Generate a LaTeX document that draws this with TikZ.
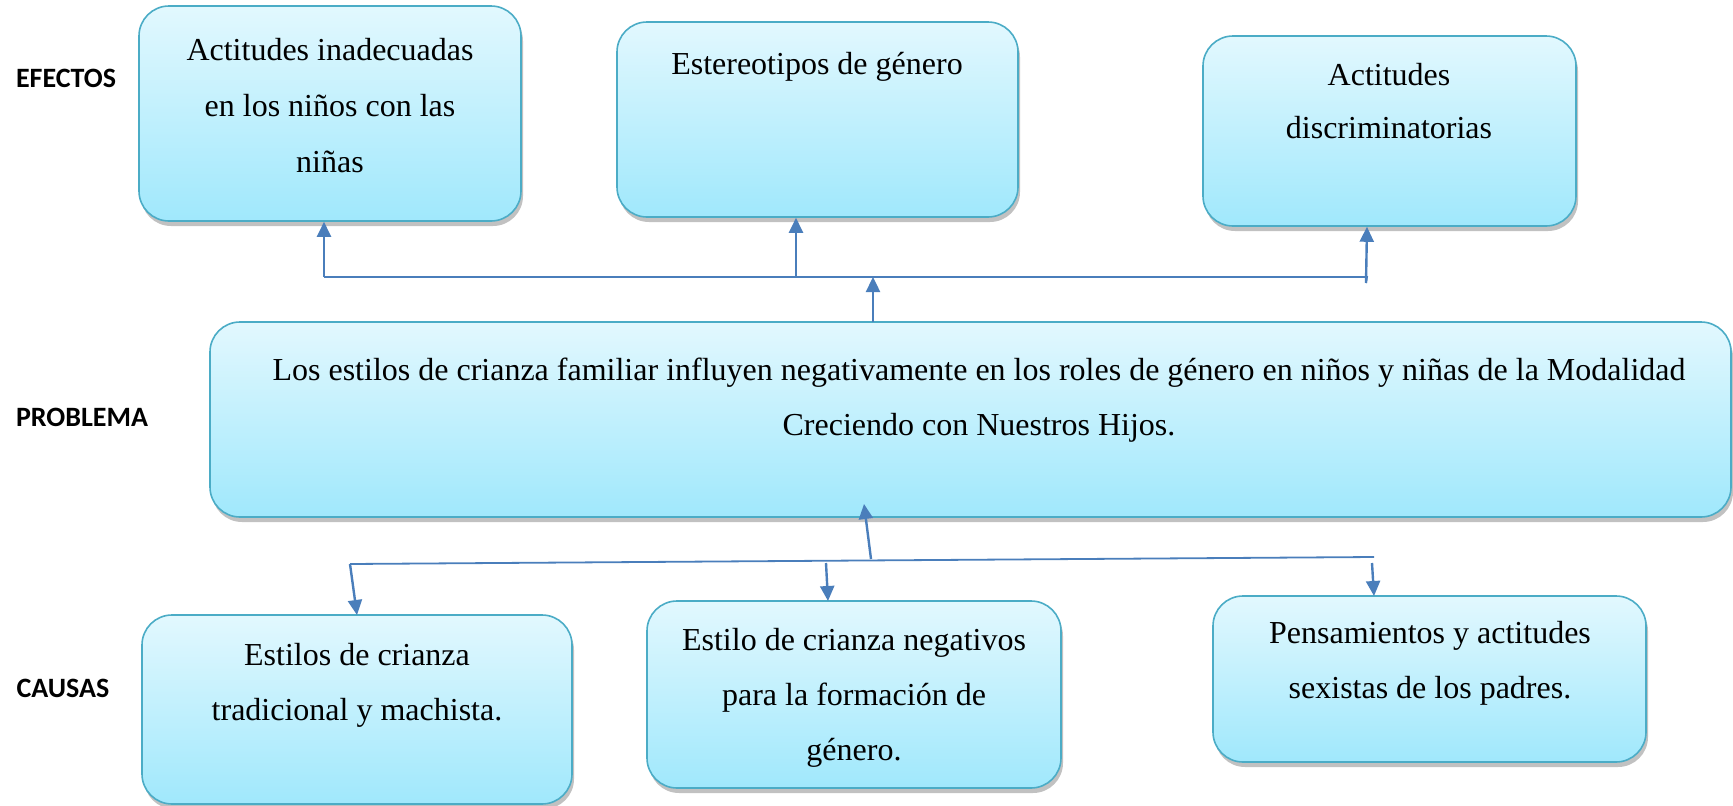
\documentclass[tikz,border=0pt]{standalone}
\usepackage{fontspec}
\setmainfont{Liberation Serif}
\newfontfamily\labelfont{Carlito}
\usetikzlibrary{arrows.meta,shadows}
\definecolor{boxline}{RGB}{75,172,198}
\definecolor{boxtop}{RGB}{226,248,254}
\definecolor{boxbottom}{RGB}{160,232,252}
\definecolor{arrowblue}{RGB}{74,126,187}

\begin{document}
\begin{tikzpicture}[x=1pt, y=-1pt,
	box/.style={draw=boxline, line width=1.6pt, rounded corners=30pt, top color=boxtop, bottom color=boxbottom,
		drop shadow={shadow xshift=2pt, shadow yshift=-5pt, opacity=0.35, fill=black!70}, inner sep=0pt},
	txt/.style={align=center, font=\fontsize{32}{55}\selectfont, anchor=base},
	side/.style={font=\labelfont\bfseries\fontsize{28}{34}\selectfont, anchor=base},
	arr/.style={draw=arrowblue, line width=2.4pt, -{Triangle[length=15pt, width=14pt]}},
	bar/.style={draw=arrowblue, line width=1.8pt}]
	\useasboundingbox (0,0) rectangle (1733,806);

	%labels
	\node[side] (efectos) at (66,87) {EFECTOS};
	\node[side] (problema) at (82,426) {PROBLEMA};
	\node[side] (causas) at (63,697) {CAUSAS};

	%effects (base = last line)
	\node[box, minimum width=382pt, minimum height=215pt] (e1) at (330,113.5) {};
	\node[box, minimum width=401pt, minimum height=195pt] (e2) at (817.5,119.5) {};
	\node[box, minimum width=373pt, minimum height=190pt] (e3) at (1389.5,131) {};
	\node[txt, font=\fontsize{32}{56}\selectfont] (e1t) at (330,172) {Actitudes inadecuadas\\en los niños con las\\niñas};
	\node[txt] (e2t) at (817,74) {Estereotipos de género};
	\node[txt, font=\fontsize{32}{53}\selectfont] (e3t) at (1389,138) {Actitudes\\discriminatorias};

	%problem
	\node[box, minimum width=1521pt, minimum height=195pt] (prob) at (970.5,419.5) {};
	\node[txt] (probt) at (979,435) {Los estilos de crianza familiar influyen negativamente en los roles de género en niños y niñas de la Modalidad\\Creciendo con Nuestros Hijos.};

	%causes
	\node[box, minimum width=430pt, minimum height=189pt] (c1) at (357,709.5) {};
	\node[box, minimum width=414pt, minimum height=187pt] (c2) at (854,694.5) {};
	\node[box, minimum width=433pt, minimum height=166pt] (c3) at (1429.5,679) {};
	\node[txt] (c1t) at (357,720) {Estilos de crianza\\tradicional y machista.};
	\node[txt] (c2t) at (854,760) {Estilo de crianza negativos\\para la formación de\\género.};
	\node[txt] (c3t) at (1430,698) {Pensamientos y actitudes\\sexistas de los padres.};

	%top bar
	\coordinate (t1) at (324,277);
	\coordinate (t2) at (796,277);
	\coordinate (t3) at (1367,277);
	\coordinate (t4) at (1366,283);
	\coordinate (p1) at (873,322);
	\draw[bar] (t1) -- (t3) -- (t4);
	\draw[arr] (t1) -- (t1 |- e1.south);
	\draw[arr] (t2) -- (t2 |- e2.south);
	\draw[arr] (t4) -- (t3 |- e3.south);
	\draw[arr] (p1) -- (p1 |- t1);

	%bottom bar
	\coordinate (b1) at (350,564);
	\coordinate (b2) at (871,559);
	\coordinate (b3) at (1374,557);
	\coordinate (b4) at (826,563);
	\coordinate (b5) at (1372,563);
	\coordinate (p2) at (864,504);
	\coordinate (d1) at (357,615);
	\coordinate (d2) at (828,601);
	\coordinate (d3) at (1374,596);
	\draw[bar] (b1) -- (b3);
	\draw[arr] (b2) -- (p2);
	\draw[arr] (b1) -- (d1);
	\draw[arr] (b4) -- (d2);
	\draw[arr] (b5) -- (d3);
\end{tikzpicture}
\end{document}
